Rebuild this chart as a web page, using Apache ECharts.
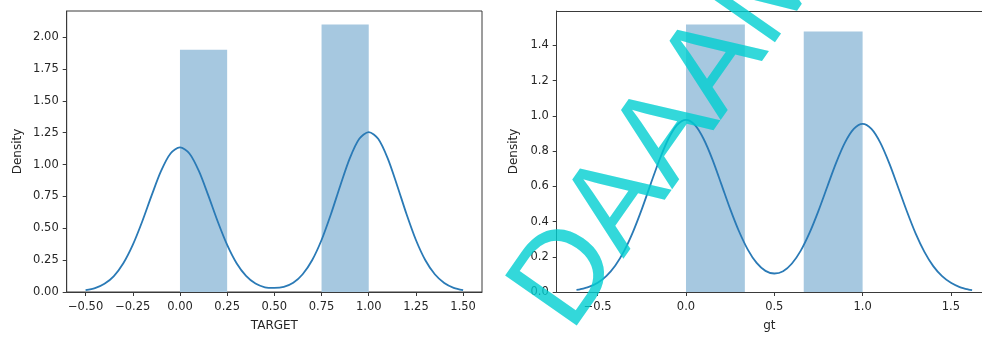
<!DOCTYPE html>
<html>
<head>
<meta charset="utf-8">
<script src="https://cdn.jsdelivr.net/npm/echarts@6/dist/echarts.min.js"></script>
<style>
html,body{margin:0;padding:0;background:#fff;}
#chart{width:982px;height:337px;}
</style>
</head>
<body>
<div id="chart"></div>
<script>
// ---- Left panel: TARGET ----
const targetBinStart = [0.0, 0.75];
const targetBinEnd = [0.25, 1.0];
const targetBinDensity = [1.90, 2.10];
const targetKdeX = [-0.50,-0.45,-0.40,-0.35,-0.30,-0.25,-0.20,-0.15,-0.10,-0.05,0.00,0.05,0.10,0.15,0.20,0.25,0.30,0.35,0.40,0.45,0.50,0.55,0.60,0.65,0.70,0.75,0.80,0.85,0.90,0.95,1.00,1.05,1.10,1.15,1.20,1.25,1.30,1.35,1.40,1.45,1.50];
const targetKdeY = [0.015,0.030,0.064,0.125,0.225,0.369,0.553,0.758,0.950,1.087,1.135,1.087,0.950,0.758,0.553,0.369,0.225,0.126,0.066,0.037,0.032,0.040,0.072,0.139,0.249,0.408,0.612,0.838,1.050,1.202,1.255,1.202,1.050,0.838,0.612,0.408,0.249,0.139,0.071,0.033,0.015];
const targetXTicks = [-0.50,-0.25,0.00,0.25,0.50,0.75,1.00,1.25,1.50];
const targetYTicks = [0.00,0.25,0.50,0.75,1.00,1.25,1.50,1.75,2.00];

// ---- Right panel: gt ----
const gtBinStart = [0.0, 0.6667];
const gtBinEnd = [0.3333, 1.0];
const gtBinDensity = [1.52, 1.48];
const gtKdeX = [-0.62,-0.60,-0.55,-0.50,-0.45,-0.40,-0.35,-0.30,-0.25,-0.20,-0.15,-0.10,-0.05,0.00,0.05,0.10,0.15,0.20,0.25,0.30,0.35,0.40,0.45,0.50,0.55,0.60,0.65,0.70,0.75,0.80,0.85,0.90,0.95,1.00,1.05,1.10,1.15,1.20,1.25,1.30,1.35,1.40,1.45,1.50,1.55,1.60,1.62];
const gtKdeY = [0.012,0.015,0.029,0.053,0.092,0.151,0.234,0.342,0.471,0.613,0.751,0.869,0.949,0.978,0.949,0.869,0.752,0.613,0.472,0.345,0.241,0.165,0.120,0.105,0.118,0.162,0.235,0.337,0.461,0.598,0.733,0.848,0.926,0.955,0.926,0.848,0.733,0.598,0.460,0.333,0.228,0.147,0.090,0.052,0.028,0.014,0.011];
const gtXTicks = [-0.5,0.0,0.5,1.0,1.5];
const gtYTicks = [0.0,0.2,0.4,0.6,0.8,1.0,1.2,1.4];

const watermarkText = 'DAAAM';

function zipPairs(xs, ys){ return xs.map((x,i)=>[x, ys[i]]); }
function binRows(s, e, d){ return s.map((v,i)=>[v, e[i], d[i]]); }
function fmt(dec){ return v => (v < 0 ? '\u2212' : '') + Math.abs(v).toFixed(dec); }

const TEXT = '#262626';
const SPINE = '#3a3a3a';
const FONT = 'DejaVu Sans';
const BAR = '#a6c8e0';
const LINE = '#2a7ab6';

function renderBar(params, api){
  const p0 = api.coord([api.value(0), api.value(2)]);
  const p1 = api.coord([api.value(1), 0]);
  return {
    type: 'rect',
    shape: {x: p0[0], y: p0[1], width: p1[0]-p0[0], height: p1[1]-p0[1]},
    style: {fill: BAR}
  };
}

function xAxisDef(idx, min, max, ticks, dec, name){
  return {
    type: 'value', gridIndex: idx, min: min, max: max,
    name: name, nameLocation: 'middle', nameGap: 28,
    nameTextStyle: {color: TEXT, fontFamily: FONT, fontSize: 12},
    axisLine: {show: true, onZero: false, lineStyle: {color: SPINE, width: 1}},
    axisTick: {show: true, inside: false, length: 4, customValues: ticks, lineStyle: {color: SPINE}},
    axisLabel: {show: true, customValues: ticks, formatter: fmt(dec), margin: 9, color: TEXT, fontFamily: FONT, fontSize: 11.5, hideOverlap: false},
    splitLine: {show: false}
  };
}
function yAxisDef(idx, min, max, ticks, dec, name, gap){
  return {
    type: 'value', gridIndex: idx, min: min, max: max,
    name: name, nameLocation: 'middle', nameGap: gap, nameRotate: 90,
    nameTextStyle: {color: TEXT, fontFamily: FONT, fontSize: 12},
    axisLine: {show: true, onZero: false, lineStyle: {color: SPINE, width: 1}},
    axisTick: {show: true, inside: false, length: 4, customValues: ticks, lineStyle: {color: SPINE}},
    axisLabel: {show: true, customValues: ticks, formatter: fmt(dec), margin: 8, color: TEXT, fontFamily: FONT, fontSize: 11.5, hideOverlap: false},
    splitLine: {show: false}
  };
}

const chart = echarts.init(document.getElementById('chart'), null, {renderer: 'canvas', width: 982, height: 337});
chart.setOption({
  animation: false,
  backgroundColor: '#ffffff',
  grid: [
    {left: 66.7, top: 11, width: 415.3, height: 282, show: true, borderColor: SPINE, borderWidth: 1, containLabel: false},
    {left: 556.7, top: 11, width: 425.3, height: 282.7, show: false, containLabel: false}
  ],
  xAxis: [
    xAxisDef(0, -0.6, 1.6, targetXTicks, 2, 'TARGET'),
    xAxisDef(1, -0.732, 1.676, gtXTicks, 1, 'gt'),
    {type: 'value', gridIndex: 1, position: 'top', min: -0.732, max: 1.676,
     axisLine: {show: true, onZero: false, lineStyle: {color: SPINE, width: 1}},
     axisTick: {show: false}, axisLabel: {show: false}, splitLine: {show: false}}
  ],
  yAxis: [
    yAxisDef(0, 0, 2.205, targetYTicks, 2, 'Density', 43),
    yAxisDef(1, 0, 1.596, gtYTicks, 1, 'Density', 37)
  ],
  series: [
    {type: 'custom', xAxisIndex: 0, yAxisIndex: 0, renderItem: renderBar, encode: {x: [0,1], y: 2}, data: binRows(targetBinStart, targetBinEnd, targetBinDensity), z: 1},
    {type: 'line', xAxisIndex: 0, yAxisIndex: 0, data: zipPairs(targetKdeX, targetKdeY), showSymbol: false, smooth: 0.3, lineStyle: {color: LINE, width: 1.8}, z: 2},
    {type: 'custom', xAxisIndex: 1, yAxisIndex: 1, renderItem: renderBar, encode: {x: [0,1], y: 2}, data: binRows(gtBinStart, gtBinEnd, gtBinDensity), z: 1},
    {type: 'line', xAxisIndex: 1, yAxisIndex: 1, data: zipPairs(gtKdeX, gtKdeY), showSymbol: false, smooth: 0.3, lineStyle: {color: LINE, width: 1.8}, z: 2}
  ],
  graphic: [
    {
      type: 'text', x: 542, y: 314, rotation: 55 * Math.PI / 180, z: 100,
      style: {text: watermarkText, font: '127px "Liberation Sans"', fill: 'rgba(0,206,209,0.8)', align: 'left', verticalAlign: 'middle'}
    }
  ]
});
</script>
</body>
</html>
